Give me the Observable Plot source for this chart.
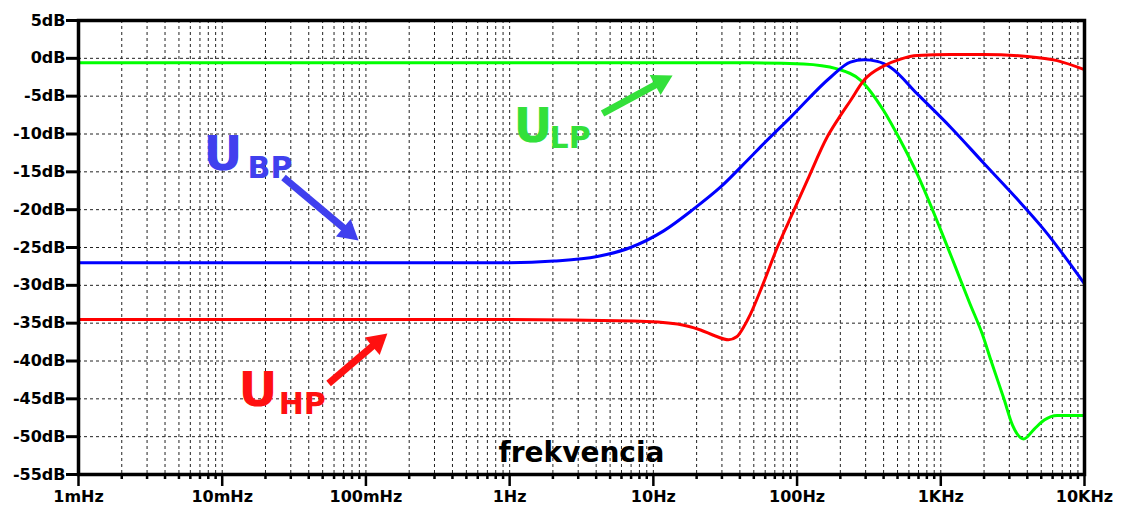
<!DOCTYPE html>
<html>
<head>
<meta charset="utf-8">
<script src="https://cdn.jsdelivr.net/npm/d3@7"></script>
<script src="https://cdn.jsdelivr.net/npm/@observablehq/plot@0.6"></script>
<style>
  html, body { margin: 0; padding: 0; background: #fff; }
  #chart svg { display: block; }
</style>
</head>
<body>
<div id="chart"></div>
<script>
// ---------- data ----------
const seriesNames = ["LP", "BP", "HP"];
const seriesColors = ["#00ff00", "#0000ff", "#ff0000"];

const freqLP = [0.001, 1, 47, 111, 190, 277, 400, 525, 686, 1000, 1260, 1585, 1950, 2240, 2750, 3160, 3770, 4470, 5250, 6460, 10000];
const dbLP   = [-0.6, -0.6, -0.6, -0.75, -1.4, -2.9, -6.9, -10.9, -15.3, -22.7, -27.5, -32.3, -36.5, -40, -45, -48.5, -50.3, -49, -47.8, -47.2, -47.2];

const freqBP = [0.001, 1, 2.03, 4.07, 6.93, 11.8, 19.1, 29.4, 45, 55.7, 90, 171, 235, 292, 361, 448, 686, 1170, 2000, 3400, 5210, 10000];
const dbBP   = [-27.0, -27.0, -26.8, -26.2, -25.0, -22.8, -19.9, -17.0, -13.5, -11.7, -7.8, -2.5, -0.5, -0.2, -0.4, -1.2, -4.7, -9.1, -13.9, -18.6, -22.6, -29.8];

const freqHP = [0.001, 1, 7.3, 14.7, 21.3, 27, 33.3, 38, 42.5, 47.4, 57.5, 72.8, 95, 118, 162, 195, 235, 292, 402, 525, 686, 1170, 2000, 4000, 6460, 10000];
const dbHP   = [-34.5, -34.5, -34.7, -35.1, -35.9, -36.7, -37.2, -36.8, -35.5, -33.8, -30.0, -25.0, -20.1, -16.1, -10.4, -7.9, -5.6, -2.9, -1.0, -0.1, 0.37, 0.5, 0.5, 0.25, -0.3, -1.5];

const xMajorTicks  = [0.001, 0.01, 0.1, 1, 10, 100, 1000, 10000];
const xMajorLabels = ["1mHz", "10mHz", "100mHz", "1Hz", "10Hz", "100Hz", "1KHz", "10KHz"];
const yTicks = [5, 0, -5, -10, -15, -20, -25, -30, -35, -40, -45, -50, -55];
const xTitle = "frekvencia";

// annotations (data units)
const annNames   = ["BP", "LP", "HP"];
const annColors  = ["#4040ee", "#33e03a", "#ff1010"];
const annUF      = [0.0074, 1.065, 0.013];
const annUDb     = [-14.7, -11.0, -46.0];
const annSubF    = [0.0150, 1.897, 0.0247];
const annSubDb   = [-15.75, -11.9, -47.07];
const arrTailF   = [0.0267, 4.43, 0.055];
const arrTailDb  = [-15.75, -7.29, -42.97];
const arrTipF    = [0.0888, 13.6, 0.141];
const arrTipDb   = [-24.07, -2.27, -36.36];

// ---------- layout ----------
const W = 1122, H = 508, ML = 78, MR = 38, MT = 20, MB = 34;
const xDomain = [0.001, 10000], yDomain = [-55, 5];
const FONT = "DejaVu Sans";

const xs = Plot.scale({x: {type: "log", domain: xDomain, range: [ML, W - MR]}});
const ys = Plot.scale({y: {type: "linear", domain: yDomain, range: [H - MB, MT]}});

// tables
const lines = [];
[[freqLP, dbLP], [freqBP, dbBP], [freqHP, dbHP]].forEach(([f, d], k) => {
  f.forEach((v, i) => lines.push({series: seriesNames[k], f: v, db: d[i]}));
});

const xMinorTicks = [];
for (let e = -3; e < 4; e++) for (let m = 2; m <= 9; m++) xMinorTicks.push(m * Math.pow(10, e));
const xAllTicks = xMajorTicks.concat(xMinorTicks);

const HEAD_R = 8.5;
const triSize = Math.PI * HEAD_R * HEAD_R;
const triY = Math.sqrt(triSize / (Math.sqrt(3) * 3));
const triHeight = 3 * triY, triTip = 2 * triY;

const arrows = annNames.map((n, i) => {
  const x1 = xs.apply(arrTailF[i]), y1 = ys.apply(arrTailDb[i]);
  const x2 = xs.apply(arrTipF[i]), y2 = ys.apply(arrTipDb[i]);
  const L = Math.hypot(x2 - x1, y2 - y1), ux = (x2 - x1) / L, uy = (y2 - y1) / L;
  const bx = x2 - ux * triHeight * 0.8, by = y2 - uy * triHeight * 0.8;
  const cx = x2 - ux * triTip, cy = y2 - uy * triTip;
  return {
    name: n, color: annColors[i],
    x1: arrTailF[i], y1: arrTailDb[i], x2: xs.invert(bx), y2: ys.invert(by),
    hx: xs.invert(cx), hy: ys.invert(cy),
    angle: Math.atan2(ux, -uy) * 180 / Math.PI
  };
});
const ann = annNames.map((n, i) => ({
  name: n, color: annColors[i], uf: annUF[i], udb: annUDb[i], sf: annSubF[i], sdb: annSubDb[i]
}));

const gridStyle = {stroke: "#222", strokeOpacity: 1, strokeWidth: 1, strokeDasharray: "3,3"};

const chart = Plot.plot({
  width: W, height: H,
  marginLeft: ML, marginRight: MR, marginTop: MT, marginBottom: MB,
  style: {fontFamily: FONT, fontSize: "16px", fontWeight: "bold", color: "#000", background: "#fff"},
  x: {type: "log", domain: xDomain, axis: null},
  y: {domain: yDomain, axis: null},
  color: {domain: seriesNames, range: seriesColors},
  marks: [
    Plot.ruleX(xAllTicks, gridStyle),
    Plot.ruleY(yTicks, gridStyle),
    Plot.axisX(xMinorTicks, {tickSize: 5, strokeWidth: 2.5, tickFormat: () => "", label: null}),
    Plot.axisX(xMajorTicks, {tickSize: 12, tickPadding: 4, strokeWidth: 2.5, label: null,
      tickFormat: d => xMajorLabels[xMajorTicks.indexOf(d)], fontSize: 16, fontWeight: "bold"}),
    Plot.axisY(yTicks, {tickSize: 12, tickPadding: 1, strokeWidth: 3, label: null,
      tickFormat: d => `${d}dB`, fontSize: 16, fontWeight: "bold"}),
    Plot.line(lines, {x: "f", y: "db", z: "series", stroke: "series", strokeWidth: 3, curve: "monotone-x"}),
    Plot.frame({stroke: "#000", strokeWidth: 3.5}),
    Plot.text([xTitle], {frameAnchor: "bottom", lineAnchor: "bottom", dy: -13, fontSize: 28, fontWeight: "bold", fill: "#000"}),
    Plot.link(arrows, {x1: "x1", y1: "y1", x2: "x2", y2: "y2", stroke: "color", strokeWidth: 7}),
    Plot.dot(arrows, {x: "hx", y: "hy", symbol: "triangle", r: HEAD_R, fill: "color", stroke: null, rotate: "angle"}),
    Plot.text(ann, {x: "uf", y: "udb", text: () => "U", fill: "color", fontSize: 48, fontWeight: "bold", textAnchor: "start", lineAnchor: "bottom"}),
    Plot.text(ann, {x: "sf", y: "sdb", text: "name", fill: "color", fontSize: 30, fontWeight: "bold", textAnchor: "start", lineAnchor: "bottom"})
  ]
});
document.getElementById("chart").appendChild(chart);
</script>
</body>
</html>
